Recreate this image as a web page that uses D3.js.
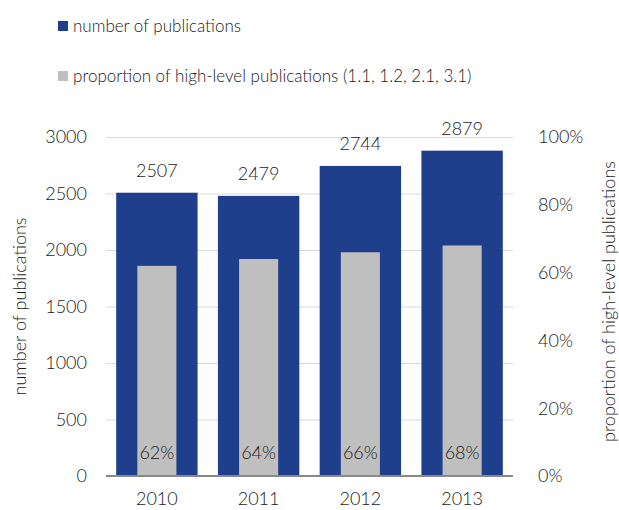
<!DOCTYPE html>
<html>
<head>
<meta charset="utf-8">
<script src="https://d3js.org/d3.v7.min.js"></script>
<style>
body { margin: 0; background: #fff; }
svg text { font-family: Lato, "Open Sans", sans-serif; font-weight: 300; fill: #1a1a1a; }
</style>
</head>
<body>
<div id="chart"></div>
<script>
var years = ["2010", "2011", "2012", "2013"];
var publications = [2507, 2479, 2744, 2879];
var highLevelShare = [0.62, 0.64, 0.66, 0.68];
var leftTicks = [0, 500, 1000, 1500, 2000, 2500, 3000];
var rightTicks = [0, 0.2, 0.4, 0.6, 0.8, 1.0];

var width = 619, height = 510;
var margin = {top: 137, right: 106, bottom: 34, left: 106};
var blue = "#1f3f8c", grey = "#bfbfbf";

var svg = d3.select("#chart").append("svg")
	.attr("width", width)
	.attr("height", height);

var x = d3.scaleBand()
	.domain(years)
	.range([margin.left, width - margin.right])
	.paddingInner(0.2)
	.paddingOuter(0.1);

var yLeft = d3.scaleLinear().domain([0, 3000]).range([height - margin.bottom, margin.top]);
var yRight = d3.scaleLinear().domain([0, 1]).range([height - margin.bottom, margin.top]);

// gridlines
svg.append("g").selectAll("line")
	.data(leftTicks.slice(1))
	.enter().append("line")
	.attr("x1", margin.left).attr("x2", width - margin.right)
	.attr("y1", function(d){ return yLeft(d) + 0.5; })
	.attr("y2", function(d){ return yLeft(d) + 0.5; })
	.style("stroke", "#d9d9d9");

// blue bars
svg.append("g").selectAll("rect")
	.data(publications)
	.enter().append("rect")
	.attr("x", function(d, i){ return x(years[i]); })
	.attr("y", function(d){ return yLeft(d); })
	.attr("width", x.bandwidth())
	.attr("height", function(d){ return yLeft(0) - yLeft(d); })
	.style("fill", blue);

// grey bars
var greyW = x.bandwidth() * 0.48;
svg.append("g").selectAll("rect")
	.data(highLevelShare)
	.enter().append("rect")
	.attr("x", function(d, i){ return x(years[i]) + (x.bandwidth() - greyW) / 2; })
	.attr("y", function(d){ return yRight(d); })
	.attr("width", greyW)
	.attr("height", function(d){ return yRight(0) - yRight(d); })
	.style("fill", grey);

// baseline
svg.append("line")
	.attr("x1", margin.left).attr("x2", width - margin.right)
	.attr("y1", yLeft(0)).attr("y2", yLeft(0))
	.style("stroke", "#898989").style("stroke-width", 2);

// value labels
svg.append("g").selectAll("text")
	.data(publications)
	.enter().append("text")
	.attr("x", function(d, i){ return x(years[i]) + x.bandwidth() / 2; })
	.attr("y", function(d){ return yLeft(d) - 16; })
	.attr("text-anchor", "middle")
	.style("font-size", "18px")
	.text(function(d){ return d; });

svg.append("g").selectAll("text")
	.data(highLevelShare)
	.enter().append("text")
	.attr("x", function(d, i){ return x(years[i]) + x.bandwidth() / 2; })
	.attr("y", yLeft(0) - 17)
	.attr("text-anchor", "middle")
	.style("font-size", "18px")
	.text(function(d){ return Math.round(d * 100) + "%"; });

// left axis labels
svg.append("g").selectAll("text")
	.data(leftTicks)
	.enter().append("text")
	.attr("x", 87)
	.attr("y", function(d){ return yLeft(d); })
	.attr("dy", "0.35em")
	.attr("text-anchor", "end")
	.style("font-size", "18px")
	.text(function(d){ return d; });

// right axis labels
svg.append("g").selectAll("text")
	.data(rightTicks)
	.enter().append("text")
	.attr("x", 538)
	.attr("y", function(d){ return yRight(d); })
	.attr("dy", "0.35em")
	.style("font-size", "18px")
	.text(function(d){ return Math.round(d * 100) + "%"; });

// x labels
svg.append("g").selectAll("text")
	.data(years)
	.enter().append("text")
	.attr("x", function(d){ return x(d) + x.bandwidth() / 2; })
	.attr("y", 505)
	.attr("text-anchor", "middle")
	.style("font-size", "18px")
	.text(function(d){ return d; });

// axis titles
var midY = (margin.top + height - margin.bottom) / 2;
svg.append("text")
	.attr("transform", "translate(26," + midY + ") rotate(-90)")
	.attr("text-anchor", "middle")
	.style("font-size", "18px")
	.text("number of publications");

svg.append("text")
	.attr("transform", "translate(615," + (midY - 5) + ") rotate(-90)")
	.attr("text-anchor", "middle")
	.style("font-size", "18px")
	.text("proportion of high-level publications");

// legend
var legend = [
	{label: "number of publications", color: blue, y: 26},
	{label: "proportion of high-level publications (1.1, 1.2, 2.1, 3.1)", color: grey, y: 76}
];
var lg = svg.append("g").selectAll("g").data(legend).enter().append("g");
lg.append("rect")
	.attr("x", 58).attr("y", function(d){ return d.y - 5; })
	.attr("width", 10).attr("height", 10)
	.style("fill", function(d){ return d.color; });
lg.append("text")
	.attr("x", 73).attr("y", function(d){ return d.y; })
	.attr("dy", "0.35em")
	.style("font-size", "17px")
	.text(function(d){ return d.label; });
</script>
</body>
</html>
